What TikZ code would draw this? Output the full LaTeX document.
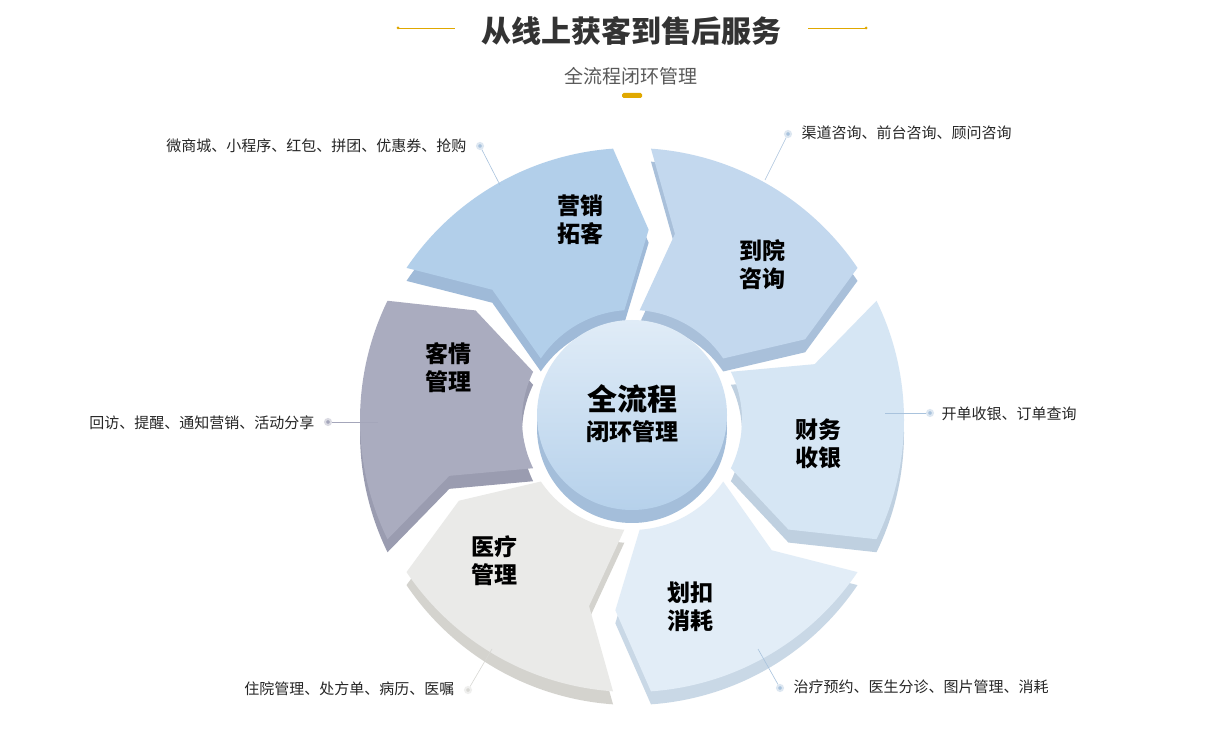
\documentclass[tikz,border=0pt]{standalone}
\usepackage{fontspec}
\setmainfont{Noto Sans CJK SC}
\begin{document}
\begin{tikzpicture}[x=1pt,y=1pt,
  seglabel/.style={font=\fontsize{23}{28}\selectfont\bfseries,align=center,text=black},
  ann/.style={font=\fontsize{15}{18}\selectfont,text=black!85},
  dotc/.style={circle,fill=#1,draw=#1!40,line width=2pt,inner sep=0pt,minimum size=6pt},
  lead/.style={draw=#1,line width=0.6pt}]
\useasboundingbox (0,0) rectangle (1231,731);
\fill[white] (0,0) rectangle (1231,731);
% title
\node (title) at (631,700) {\fontsize{30}{34}\selectfont\bfseries\color{black!80}从线上获客到售后服务};
\draw[color={rgb,255:red,224;green,168;blue,0},line width=0.8pt] (398,703) -- (455,703);
\draw[color={rgb,255:red,224;green,168;blue,0},line width=0.8pt] (808,703) -- (866,703);
\fill[color={rgb,255:red,224;green,168;blue,0}] (398,703) circle (1.5) (866,703) circle (1.5);
\node (sub) at (631,655) {\fontsize{19}{22}\selectfont\color{black!65}全流程闭环管理};
\fill[color={rgb,255:red,224;green,168;blue,0},rounded corners=1.5pt] (622,633) rectangle (642,638);
\begin{scope}[shift={(632,311)}]
\def\segpath#1{(#1+26:272pt) arc[start angle=#1+26,end angle=#1-26,radius=272pt] -- (#1-35:191pt) -- (#1-26:110pt) arc[start angle=#1-26,end angle=#1+26,radius=110pt] -- (#1+17:191pt) -- cycle}
\foreach \p/\tc/\sc in {120/B2CFEA/9FBAD8,60/C3D8EE/A9C0DA,0/D6E6F4/BFD0E0,-60/E2EDF7/C9D8E6,-120/EAEAE8/D4D3CE,180/AAACBF/9A9CB0}{
  \definecolor{sidec}{HTML}{\sc}
  \fill[sidec,yshift=-13pt] \segpath{\p};
}
\foreach \p/\tc/\sc in {120/B2CFEA/9FBAD8,60/C3D8EE/A9C0DA,0/D6E6F4/BFD0E0,-60/E2EDF7/C9D8E6,-120/EAEAE8/D4D3CE,180/AAACBF/9A9CB0}{
  \definecolor{topc}{HTML}{\tc}
  \fill[topc] \segpath{\p};
}
\end{scope}
% center
\definecolor{lipc}{HTML}{A4BEDA}
\definecolor{ctop}{HTML}{E0ECF7}
\definecolor{cbot}{HTML}{B6D1EB}
\fill[lipc] (632,303) circle (95);
\shade[top color=ctop,bottom color=cbot] (632,316) circle (95);
\node[font=\fontsize{30}{34}\selectfont\bfseries] (c1) at (632,332) {全流程};
\node[font=\fontsize{23}{28}\selectfont\bfseries] (c2) at (632,299) {闭环管理};
% labels
\node[seglabel] (s1) at (580,511) {营销\\拓客};
\node[seglabel] (s2) at (762,466) {到院\\咨询};
\node[seglabel] (s3) at (818,287) {财务\\收银};
\node[seglabel] (s4) at (690,124) {划扣\\消耗};
\node[seglabel] (s5) at (494,170) {医疗\\管理};
\node[seglabel] (s6) at (448,363) {客情\\管理};
% annotations
\definecolor{dblue}{HTML}{A9C3DD}
\definecolor{dgray}{HTML}{A4A6BA}
\definecolor{dlight}{HTML}{D8D8D4}
\node[dotc=dblue] (d1) at (480,585) {};
\coordinate (e1) at (500,546);
\draw[lead=dblue] (d1) -- (e1);
\node[ann,anchor=east] (a1) at (470,585) {微商城、小程序、红包、拼团、优惠券、抢购};
\node[dotc=dblue] (d2) at (788,597) {};
\coordinate (e2) at (765,551);
\draw[lead=dblue] (d2) -- (e2);
\node[ann,anchor=west] (a2) at (798,598) {渠道咨询、前台咨询、顾问咨询};
\node[dotc=dblue] (d3) at (930,318) {};
\coordinate (e3) at (885,318);
\draw[lead=dblue] (d3) -- (e3);
\node[ann,anchor=west] (a3) at (938,317) {开单收银、订单查询};
\node[dotc=dblue] (d4) at (780,43) {};
\coordinate (e4) at (758,82);
\draw[lead=dblue] (d4) -- (e4);
\node[ann,anchor=west] (a4) at (790,44) {治疗预约、医生分诊、图片管理、消耗};
\node[dotc=dlight] (d5) at (468,41) {};
\coordinate (e5) at (492,82);
\draw[lead=dlight] (d5) -- (e5);
\node[ann,anchor=east] (a5) at (458,42) {住院管理、处方单、病历、医嘱};
\node[dotc=dgray] (d6) at (328,309) {};
\coordinate (e6) at (378,309);
\draw[lead=dgray] (d6) -- (e6);
\node[ann,anchor=east] (a6) at (318,308) {回访、提醒、通知营销、活动分享};
\end{tikzpicture}
\end{document}
